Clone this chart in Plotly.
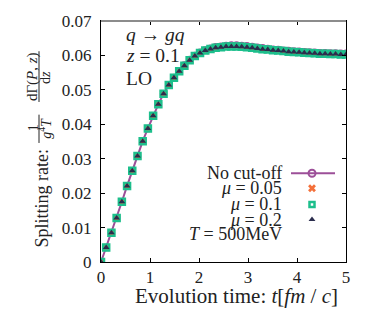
import plotly.graph_objects as go

# ---------------- data ----------------
t = [0.000, 0.106, 0.213, 0.319, 0.426, 0.532, 0.638, 0.745, 0.851, 0.957,
     1.064, 1.170, 1.277, 1.383, 1.489, 1.596, 1.702, 1.809, 1.915, 2.021,
     2.128, 2.234, 2.340, 2.447, 2.553, 2.660, 2.766, 2.872, 2.979, 3.085,
     3.191, 3.298, 3.404, 3.511, 3.617, 3.723, 3.830, 3.936, 4.043, 4.149,
     4.255, 4.362, 4.468, 4.574, 4.681, 4.787, 4.894, 5.000]

mu_02 = [0.0000, 0.0042, 0.0085, 0.0128, 0.0175, 0.0221, 0.0265, 0.0308, 0.0351, 0.0388,
         0.0425, 0.0458, 0.0489, 0.0514, 0.0535, 0.0554, 0.0570, 0.0586, 0.0598, 0.0607,
         0.0614, 0.0619, 0.0622, 0.0624, 0.0626, 0.0626, 0.0626, 0.0625, 0.0624, 0.0622,
         0.0620, 0.0618, 0.0617, 0.0615, 0.0614, 0.0613, 0.0611, 0.0610, 0.0609, 0.0608,
         0.0607, 0.0606, 0.0605, 0.0605, 0.0604, 0.0604, 0.0603, 0.0603]
mu_01 = [0.0000, 0.0042, 0.0085, 0.0128, 0.0175, 0.0221, 0.0265, 0.0308, 0.0351, 0.0388,
         0.0425, 0.0458, 0.0489, 0.0514, 0.0535, 0.0554, 0.0570, 0.0586, 0.0598, 0.0607,
         0.0614, 0.0619, 0.0622, 0.0624, 0.0626, 0.0626, 0.0626, 0.0625, 0.0624, 0.0622,
         0.0620, 0.0618, 0.0617, 0.0615, 0.0614, 0.0613, 0.0611, 0.0610, 0.0609, 0.0608,
         0.0607, 0.0606, 0.0605, 0.0605, 0.0604, 0.0604, 0.0603, 0.0603]
mu_005 = [0.0000, 0.0042, 0.0085, 0.0128, 0.0175, 0.0221, 0.0265, 0.0308, 0.0351, 0.0388,
          0.0425, 0.0458, 0.0489, 0.0514, 0.0535, 0.0554, 0.0570, 0.0586, 0.0598, 0.0607,
          0.0614, 0.0619, 0.0622, 0.0625, 0.0626, 0.0627, 0.0627, 0.0626, 0.0625, 0.0623,
          0.0621, 0.0619, 0.0618, 0.0616, 0.0615, 0.0614, 0.0612, 0.0611, 0.0610, 0.0609,
          0.0608, 0.0607, 0.0606, 0.0606, 0.0605, 0.0605, 0.0604, 0.0604]
no_cutoff = [0.0000, 0.0042, 0.0085, 0.0128, 0.0175, 0.0221, 0.0265, 0.0308, 0.0351, 0.0388,
             0.0425, 0.0458, 0.0489, 0.0515, 0.0536, 0.0555, 0.0572, 0.0588, 0.0600, 0.0609,
             0.0616, 0.0621, 0.0625, 0.0627, 0.0629, 0.0630, 0.0630, 0.0629, 0.0628, 0.0626,
             0.0624, 0.0622, 0.0620, 0.0618, 0.0617, 0.0615, 0.0614, 0.0613, 0.0612, 0.0611,
             0.0610, 0.0609, 0.0608, 0.0608, 0.0607, 0.0607, 0.0606, 0.0606]

x_ticks = [0, 1, 2, 3, 4, 5]
x_ticktext = ["0", "1", "2", "3", "4", "5"]
y_ticks = [0, 0.01, 0.02, 0.03, 0.04, 0.05, 0.06, 0.07]
y_ticktext = ["0", "0.01", "0.02", "0.03", "0.04", "0.05", "0.06", "0.07"]

legend_labels = ["No cut-off", "<i>μ</i> = 0.05", "<i>μ</i> = 0.1", "<i>μ</i> = 0.2",
                 "<i>T</i> = 500MeV"]

# ---------------- style ----------------
PURPLE = "#9c4f98"
ORANGE = "#f4703a"
GREEN = "#1dbf8c"
NAVY = "#2b2d4d"
FONT = "Liberation Serif"
FS = 17
TXT = "#222"

# plot area in pixels
W, H = 373, 311
L, R, T_, B = 101, 346, 15, 262


def px(xp):
    return (xp - L) / (R - L)


def py(yp):
    return (B - yp) / (B - T_)


fig = go.Figure()

fig.add_trace(go.Scatter(x=t, y=no_cutoff, mode="lines+markers",
                         line=dict(color=PURPLE, width=2),
                         marker=dict(symbol="circle-open", size=6, color=PURPLE,
                                     line=dict(width=1.5, color=PURPLE)),
                         showlegend=False))
fig.add_trace(go.Scatter(x=t, y=mu_005, mode="markers",
                         marker=dict(symbol="x", size=7, color=ORANGE, line=dict(width=0)),
                         showlegend=False))
fig.add_trace(go.Scatter(x=t, y=mu_01, mode="markers",
                         marker=dict(symbol="square-open", size=6, color=GREEN,
                                     line=dict(width=2.5, color=GREEN)),
                         showlegend=False))
fig.add_trace(go.Scatter(x=t, y=mu_02, mode="markers",
                         marker=dict(symbol="triangle-up", size=6, color=NAVY, line=dict(width=0)),
                         showlegend=False))

# ---------- manual legend (symbols on the right of right-aligned text) ----------
leg_rows = [171, 186.5, 203, 218.5, 233]
sym_x = px(312)
fig.add_trace(go.Scatter(x=[px(291), px(335)], y=[py(leg_rows[0])] * 2, mode="lines",
                         line=dict(color=PURPLE, width=2), xaxis="x2", yaxis="y2",
                         showlegend=False, hoverinfo="skip"))
fig.add_trace(go.Scatter(x=[sym_x], y=[py(leg_rows[0])], mode="markers",
                         marker=dict(symbol="circle-open", size=7, color=PURPLE,
                                     line=dict(width=2, color=PURPLE)),
                         xaxis="x2", yaxis="y2", showlegend=False, hoverinfo="skip"))
fig.add_trace(go.Scatter(x=[sym_x], y=[py(leg_rows[1])], mode="markers",
                         marker=dict(symbol="x", size=7, color=ORANGE, line=dict(width=0)),
                         xaxis="x2", yaxis="y2", showlegend=False, hoverinfo="skip"))
fig.add_trace(go.Scatter(x=[sym_x], y=[py(leg_rows[2])], mode="markers",
                         marker=dict(symbol="square-open", size=5, color=GREEN,
                                     line=dict(width=2.5, color=GREEN)),
                         xaxis="x2", yaxis="y2", showlegend=False, hoverinfo="skip"))
fig.add_trace(go.Scatter(x=[sym_x], y=[py(leg_rows[3])], mode="markers",
                         marker=dict(symbol="triangle-up", size=6, color=NAVY, line=dict(width=0)),
                         xaxis="x2", yaxis="y2", showlegend=False, hoverinfo="skip"))

annotations = []
for lab, yr in zip(legend_labels, leg_rows):
    annotations.append(dict(text=lab, x=px(283), y=py(yr), xref="paper", yref="paper",
                            xanchor="right", yanchor="middle", showarrow=False,
                            borderpad=0,
                            font=dict(family=FONT, size=18, color=TXT)))

# top-left labels
for txt, yr in [("<i>q</i> → <i>gq</i>", 29), ("<i>z</i> = 0.1", 50), ("LO", 74)]:
    annotations.append(dict(text=txt, x=px(125), y=py(yr), xref="paper", yref="paper",
                            xanchor="left", yanchor="middle", showarrow=False,
                            borderpad=0,
                            font=dict(family=FONT, size=19.5, color=TXT)))

# x title
annotations.append(dict(text="Evolution time: <i>t</i>[<i>fm</i> / <i>c</i>]",
                        x=px(236), y=py(297), xref="paper", yref="paper",
                        xanchor="center", yanchor="middle", showarrow=False,
                        font=dict(family=FONT, size=21, color=TXT)))

# y title built from pieces (rotated)
def rot(text, xp, yp, size):
    return dict(text=text, x=px(xp), y=py(yp), xref="paper", yref="paper",
                xanchor="center", yanchor="middle", showarrow=False, textangle=-90,
                font=dict(family=FONT, size=size, color=TXT))

annotations.append(rot("Splitting rate:", 42, 197, 18))
annotations.append(rot("1", 33, 125, 14))
annotations.append(rot("<i>g</i><sup>4</sup><i>T</i>", 45.5, 125, 14))
annotations.append(rot("dΓ(<i>P</i>, <i>z</i>)", 32.5, 72, 15))
annotations.append(rot("d<i>z</i>", 45.5, 73, 14))

shapes = [
    dict(type="line", xref="paper", yref="paper", x0=px(39), x1=px(39),
         y0=py(111), y1=py(140), line=dict(color=TXT, width=1)),
    dict(type="line", xref="paper", yref="paper", x0=px(39), x1=px(39),
         y0=py(46), y1=py(98), line=dict(color=TXT, width=1)),
    # grey top frame
    dict(type="line", xref="paper", yref="paper", x0=0, x1=1, y0=1, y1=1,
         line=dict(color="#8c8c8c", width=2), layer="above"),
]

axis_common = dict(showline=True, linecolor="black", linewidth=1, mirror="ticks",
                   ticks="inside", ticklen=4, tickwidth=1, tickcolor="black",
                   showgrid=False, zeroline=False,
                   tickfont=dict(family=FONT, size=FS, color=TXT))

fig.update_layout(
    width=W, height=H,
    margin=dict(l=L, r=W - R, t=T_, b=H - B),
    paper_bgcolor="white", plot_bgcolor="white",
    xaxis=dict(range=[0, 5], tickvals=x_ticks, ticktext=x_ticktext, **axis_common),
    yaxis=dict(range=[0, 0.07], tickvals=y_ticks, ticktext=y_ticktext,
               ticklabelstandoff=5, **axis_common),
    xaxis2=dict(overlaying="x", range=[0, 1], visible=False),
    yaxis2=dict(overlaying="y", range=[0, 1], visible=False),
    annotations=annotations,
    shapes=shapes,
    showlegend=False,
)

fig.write_html("out.html", config={"displayModeBar": False},
               post_script="document.body.style.margin='0';")
